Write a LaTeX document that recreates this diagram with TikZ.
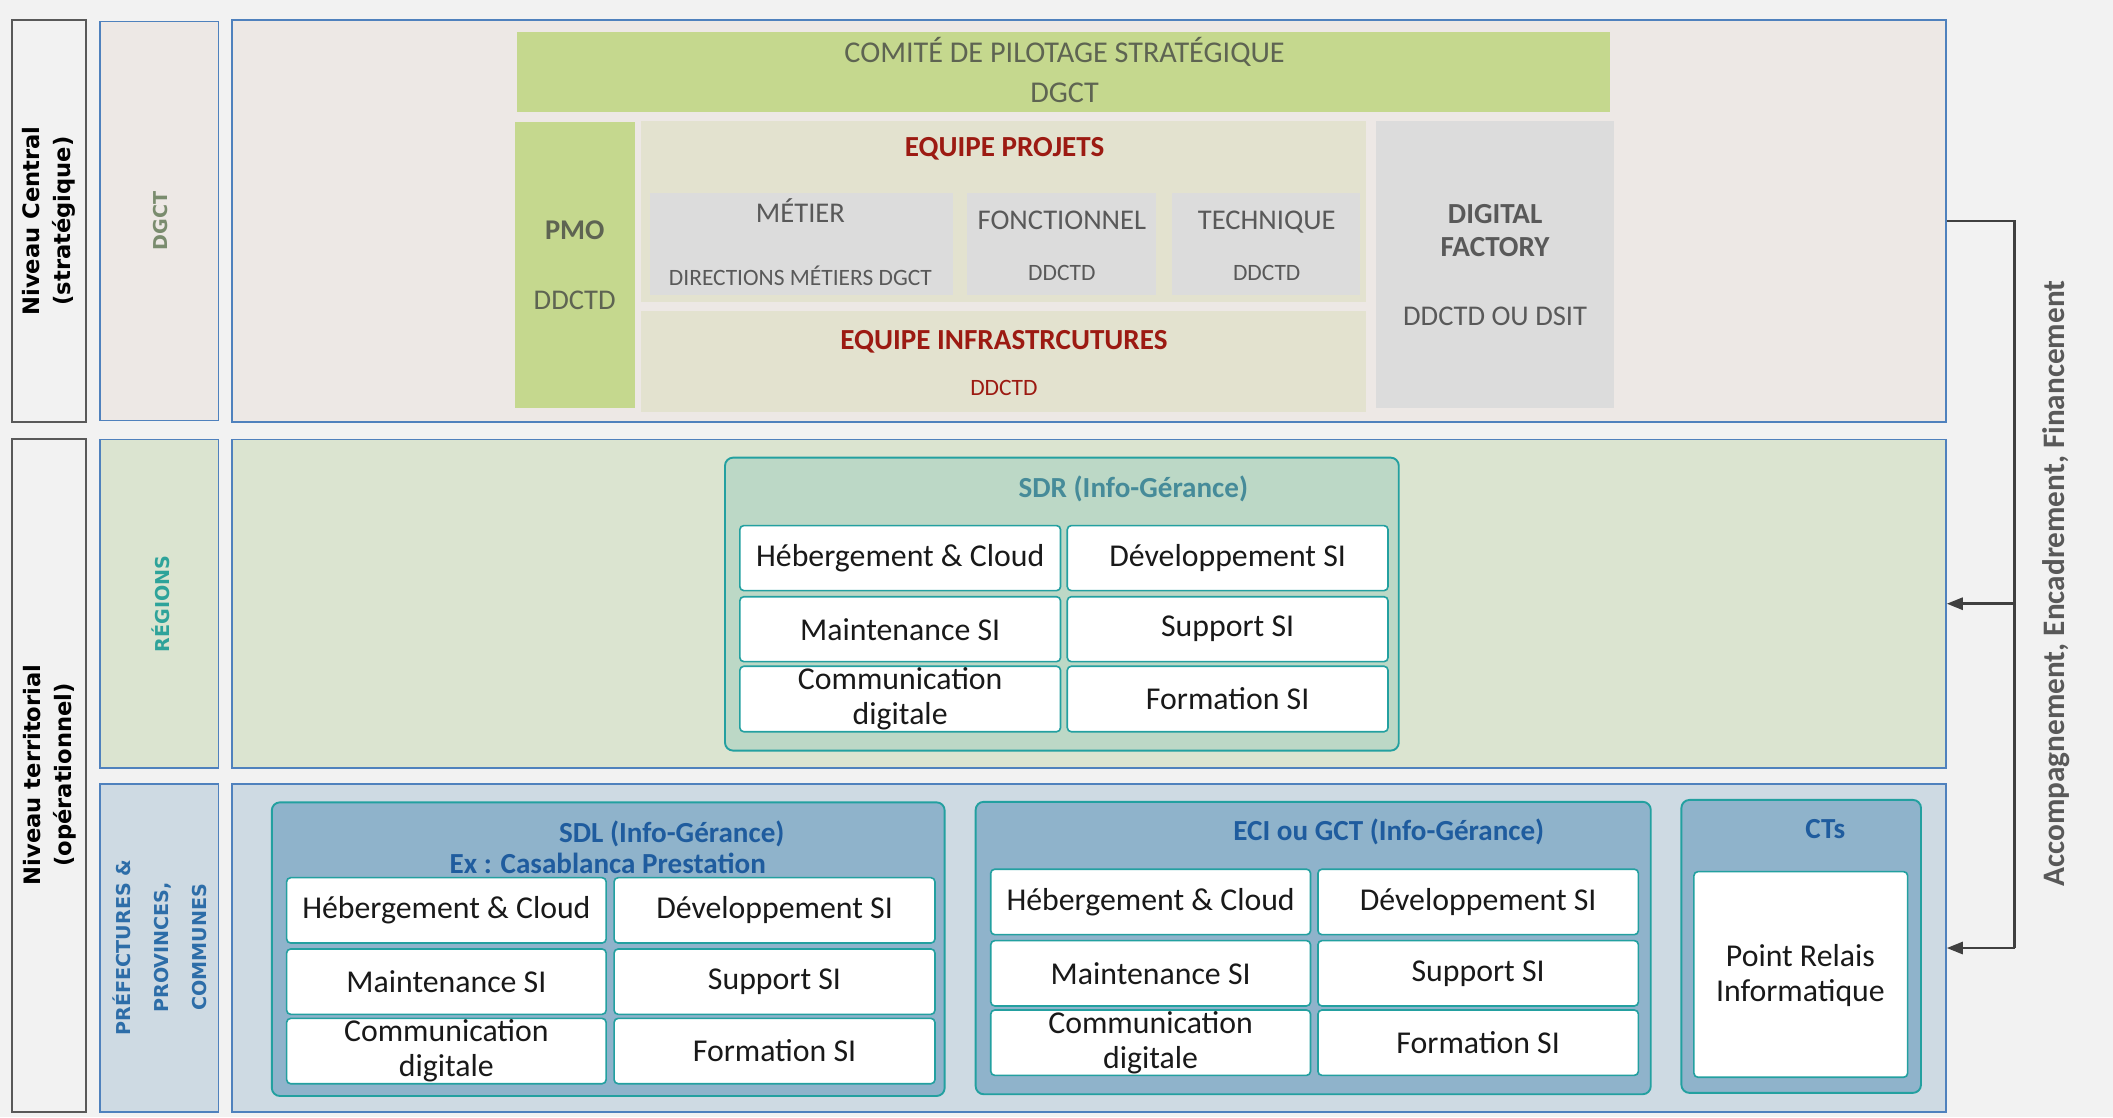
\documentclass[tikz,border=0pt]{standalone}
\usepackage{fontspec}
\setmainfont{Carlito}
\newfontfamily\vfont{DejaVu Sans}
\usetikzlibrary{fit,arrows.meta}
\definecolor{bgc}{HTML}{F2F2F2}
\definecolor{zoneA}{HTML}{EDE8E5}
\definecolor{zoneB}{HTML}{DBE4D0}
\definecolor{zoneC}{HTML}{CEDAE3}
\definecolor{frameblue}{HTML}{4F81BD}
\definecolor{framegray}{HTML}{595959}
\definecolor{leaf}{HTML}{C5D88E}
\definecolor{beige}{HTML}{E3E2CF}
\definecolor{lgray}{HTML}{DCDCDC}
\definecolor{sdrfill}{HTML}{BCD8C6}
\definecolor{tealline}{HTML}{23A0A0}
\definecolor{sdlfill}{HTML}{8FB3CB}
\definecolor{olivetext}{HTML}{5E6452}
\definecolor{graytext}{HTML}{595959}
\definecolor{redtext}{HTML}{9C1A12}
\definecolor{sdrtext}{HTML}{468B99}
\definecolor{bluetext}{HTML}{1F5C9E}
\definecolor{dgcttext}{HTML}{7A8C6E}
\definecolor{regtext}{HTML}{2EA39A}
\definecolor{preftext}{HTML}{2D6DA8}
\definecolor{arrowc}{HTML}{404040}
\begin{document}
\begin{tikzpicture}[x=0.5pt,y=-0.5pt,
  zone/.style={draw=frameblue,line width=0.6pt,inner sep=0pt},
  lvl/.style={draw=framegray,line width=0.7pt,fill=bgc,inner sep=0pt},
  flat/.style={inner sep=0pt},
  grp/.style={draw=tealline,line width=0.7pt,rounded corners=3pt,inner sep=0pt},
  cell/.style={draw=tealline,line width=0.6pt,rounded corners=1.5pt,fill=white,inner sep=0pt},
  celltxt/.style={font=\fontsize{11.8}{13}\selectfont,text=black!90,align=center,inner sep=0pt},
  toptxt/.style={font=\fontsize{11}{13}\selectfont,anchor=base,inner sep=0pt},
  smalltxt/.style={font=\fontsize{8.7}{10}\selectfont,anchor=base,inner sep=0pt},
  boldtxt/.style={font=\bfseries\fontsize{10.8}{13}\selectfont,anchor=base,inner sep=0pt},
  sidetxt/.style={font=\vfont\bfseries\fontsize{7.1}{14}\selectfont,rotate=90,align=center,inner sep=0pt},
  conn/.style={draw=arrowc,line width=1pt},
  arr/.style={conn,-{Triangle[length=6pt,width=4.5pt]}}
]
\useasboundingbox (0,0) rectangle (1568,829);
\fill[bgc] (0,0) rectangle (1568,829);

% level labels
\node[lvl,fit={(9,15)(64,313)}] (L1) {};
\node[lvl,fit={(9,326)(64,825)}] (L2) {};
\node[font=\vfont\bfseries\fontsize{8.4}{11.5}\selectfont,rotate=90,align=center,inner sep=0pt] (L1t) at (L1.center) {Niveau Central\\(stratégique)};
\node[font=\vfont\bfseries\fontsize{8.4}{11.5}\selectfont,rotate=90,align=center,inner sep=0pt] (L2t) at (37,575) {Niveau territorial\\(opérationnel)};

% second column
\node[zone,fill=zoneA,fit={(74,16)(162,312)}] (C1) {};
\node[zone,fill=zoneB,fit={(74,326)(162,570)}] (C2) {};
\node[zone,fill=zoneC,fit={(74,582)(162,825)}] (C3) {};
\node[sidetxt,text=dgcttext] (C1t) at (119,164) {DGCT};
\node[sidetxt,text=regtext] (C2t) at (119,448) {RÉGIONS};
\node[sidetxt,text=preftext] (C3t) at (118.5,703) {PRÉFECTURES \&\\PROVINCES,\\COMMUNES};

% main zones
\node[zone,fill=zoneA,fit={(172,15)(1444,313)}] (b1) {};
\node[zone,fill=zoneB,fit={(172,326)(1444,570)}] (b2) {};
\node[zone,fill=zoneC,fit={(172,582)(1444,825)}] (b3) {};

% central level
\node[flat,fill=leaf,fit={(384,24)(1195,83)}] (comite) {};
\node[toptxt,font=\fontsize{11.2}{13}\selectfont,text=olivetext] (comite1) at (790,46.5) {COMITÉ DE PILOTAGE STRATÉGIQUE};
\node[toptxt,font=\fontsize{11.2}{13}\selectfont,text=olivetext] (comite2) at (790,76) {DGCT};

\node[flat,fill=leaf,fit={(382,90.5)(471,302.5)}] (pmo) {};
\node[font=\bfseries\fontsize{10.6}{13}\selectfont,anchor=base,inner sep=0pt,text=olivetext] (pmo1) at (426.5,178) {PMO};
\node[font=\fontsize{10.6}{13}\selectfont,anchor=base,inner sep=0pt,text=olivetext] (pmo2) at (426.5,230) {DDCTD};

\node[flat,fill=beige,fit={(476,90)(1014,224)}] (eqp) {};
\node[boldtxt,text=redtext] (eqp1) at (745.5,116) {EQUIPE PROJETS};

\node[flat,fill=lgray,fit={(482,143.5)(707.5,219)}] (metier) {};
\node[toptxt,font=\fontsize{10.6}{13}\selectfont,text=graytext] (metier1) at (594,165) {MÉTIER};
\node[smalltxt,text=graytext] (metier2) at (594,211.5) {DIRECTIONS MÉTIERS DGCT};

\node[flat,fill=lgray,fit={(717.5,143.5)(858,219)}] (fonct) {};
\node[toptxt,font=\fontsize{10.6}{13}\selectfont,text=graytext] (fonct1) at (788,170) {FONCTIONNEL};
\node[smalltxt,text=graytext] (fonct2) at (788,208.4) {DDCTD};

\node[flat,fill=lgray,fit={(869.5,143.5)(1009.5,219)}] (tech) {};
\node[toptxt,font=\fontsize{10.6}{13}\selectfont,text=graytext] (tech1) at (940,170) {TECHNIQUE};
\node[smalltxt,text=graytext] (tech2) at (940,208.4) {DDCTD};

\node[flat,fill=beige,fit={(476,231)(1014,306)}] (infra) {};
\node[boldtxt,text=redtext] (infra1) at (745,259.7) {EQUIPE INFRASTRCUTURES};
\node[smalltxt,text=redtext] (infra2) at (745,293.6) {DDCTD};

\node[flat,fill=lgray,fit={(1021,90)(1198,303)}] (digital) {};
\node[boldtxt,text=graytext] (digital1) at (1109.5,166) {DIGITAL};
\node[boldtxt,text=graytext] (digital2) at (1109.5,190) {FACTORY};
\node[toptxt,font=\fontsize{10.6}{13}\selectfont,text=graytext] (digital3) at (1109.5,241.7) {DDCTD OU DSIT};

% regional level
\node[grp,fill=sdrfill,fit={(538,339.6)(1038,557)}] (sdr) {};
\node[boldtxt,text=sdrtext] (sdrt) at (841,369) {SDR (Info-Gérance)};
\node[cell,fit={(549,390)(787,438.3)}] (sdr11) {};
\node[cell,fit={(792,390)(1030,438.3)}] (sdr12) {};
\node[cell,fit={(549,442.8)(787,491)}] (sdr21) {};
\node[cell,fit={(792,442.8)(1030,491)}] (sdr22) {};
\node[cell,fit={(549,494.4)(787,543)}] (sdr31) {};
\node[cell,fit={(792,494.4)(1030,543)}] (sdr32) {};
\node[celltxt] (sdr11t) at (sdr11) {Hébergement \& Cloud};
\node[celltxt] (sdr12t) at (sdr12) {Développement SI};
\node[celltxt] (sdr21t) at (sdr21) {Maintenance SI};
\node[celltxt] (sdr22t) at (sdr22) {Support SI};
\node[celltxt] (sdr31t) at (sdr31) {Communication\\digitale};
\node[celltxt] (sdr32t) at (sdr32) {Formation SI};

% local level: SDL
\node[grp,fill=sdlfill,fit={(201.7,595.4)(701,813.3)}] (sdl) {};
\node[boldtxt,text=bluetext] (sdlt) at (498.5,625) {SDL (Info-Gérance)};
\node[boldtxt,text=bluetext] (sdlt2) at (451,648) {Ex : Casablanca Prestation};
\node[cell,fit={(212.7,651.3)(449.8,699.8)}] (sdl11) {};
\node[cell,fit={(455.7,651.3)(693.8,699.8)}] (sdl12) {};
\node[cell,fit={(212.7,704.2)(449.8,752.7)}] (sdl21) {};
\node[cell,fit={(455.7,704.2)(693.8,752.7)}] (sdl22) {};
\node[cell,fit={(212.7,755.7)(449.8,804.2)}] (sdl31) {};
\node[cell,fit={(455.7,755.7)(693.8,804.2)}] (sdl32) {};
\node[celltxt] (sdl11t) at (sdl11) {Hébergement \& Cloud};
\node[celltxt] (sdl12t) at (sdl12) {Développement SI};
\node[celltxt] (sdl21t) at (sdl21) {Maintenance SI};
\node[celltxt] (sdl22t) at (sdl22) {Support SI};
\node[celltxt] (sdl31t) at (sdl31) {Communication\\digitale};
\node[celltxt] (sdl32t) at (sdl32) {Formation SI};

% local level: ECI
\node[grp,fill=sdlfill,fit={(724,595)(1225,812)}] (eci) {};
\node[boldtxt,text=bluetext] (ecit) at (1030.6,624) {ECI ou GCT (Info-Gérance)};
\node[cell,fit={(735.2,645)(972.5,693.6)}] (eci11) {};
\node[cell,fit={(978,645)(1215.8,693.6)}] (eci12) {};
\node[cell,fit={(735.2,698)(972.5,746.5)}] (eci21) {};
\node[cell,fit={(978,698)(1215.8,746.5)}] (eci22) {};
\node[cell,fit={(735.2,749.5)(972.5,798)}] (eci31) {};
\node[cell,fit={(978,749.5)(1215.8,798)}] (eci32) {};
\node[celltxt] (eci11t) at (eci11) {Hébergement \& Cloud};
\node[celltxt] (eci12t) at (eci12) {Développement SI};
\node[celltxt] (eci21t) at (eci21) {Maintenance SI};
\node[celltxt] (eci22t) at (eci22) {Support SI};
\node[celltxt] (eci31t) at (eci31) {Communication\\digitale};
\node[celltxt] (eci32t) at (eci32) {Formation SI};

% CTs
\node[grp,fill=sdlfill,fit={(1247.7,593.6)(1425.5,811)}] (cts) {};
\node[boldtxt,text=bluetext] (ctst) at (1354.5,622) {CTs};
\node[cell,fit={(1257,646.8)(1415.6,799.4)}] (pri) {};
\node[celltxt] (prit) at (1336,724) {Point Relais\\Informatique};

% connectors
\coordinate (jt) at (1495,164);
\coordinate (jb) at (1495,703.5);
\draw[conn] (b1.east) -- (jt) -- (jb);
\draw[arr] (b2.east -| jt) -- (b2.east);
\draw[arr] (jb) -- (b3.east);
\node[font=\bfseries\fontsize{11.6}{13}\selectfont,text=graytext,rotate=90,inner sep=0pt] (side) at (1526,433) {Accompagnement, Encadrement, Financement};
\end{tikzpicture}
\end{document}
